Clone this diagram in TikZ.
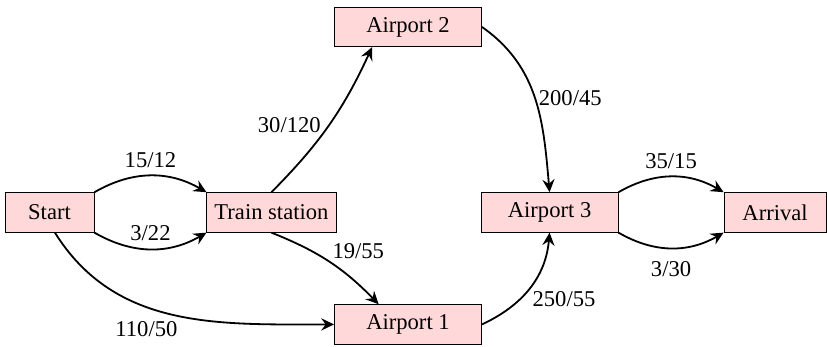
\documentclass[tikz,border=0pt]{standalone}
\usepackage{fontspec}
\setmainfont{Liberation Serif}
\usetikzlibrary{arrows.meta, positioning, calc}

\begin{document}
\begin{tikzpicture}[
  place/.style={draw, fill=red!15, minimum height=0.615cm, inner sep=2pt},
  route/.style={-{Stealth[length=2mm, width=1.9mm, inset=0.7mm]}, thick}
]
\useasboundingbox (0,0) rectangle (12.863,5.396);

% places
\node[place, minimum width=1.385cm] (start) at (0.770,2.092) {Start};
\node[place, minimum width=2.007cm] (train) at (4.222,2.092) {Train station};
\node[place, minimum width=2.286cm] (ap2) at (6.346,4.977) {Airport 2};
\node[place, minimum width=2.130cm] (ap3) at (8.548,2.092) {Airport 3};
\node[place, minimum width=1.586cm] (arrival) at (12.055,2.092) {Arrival};
\node[place, minimum width=2.286cm] (ap1) at (6.346,0.350) {Airport 1};

% routes
\draw[route] (start.north east) to[bend left=30] node[above] {15/12} (train.north west);
\draw[route] (start.south east) to[bend right=30] node[above] {3/22} (train.south west);
\draw[route] ([xshift=2.4pt]start.south) to[out=-58, in=180] node[pos=0.4, below, yshift=-2.5pt] {110/50} (ap1.west);
\draw[route] (train.north) to[bend right=10] node[midway, left] {30/120} ([xshift=-15.9pt]ap2.south);
\draw[route] (train.south) to[bend left=12] node[midway, above right, inner sep=1pt] {19/55} ([xshift=-13pt]ap1.north);
\draw[route] (ap2.east) to[out=-35, in=95] node[midway, right, xshift=-2pt] {200/45} (ap3.north);
\draw[route] (ap1.east) to[out=25, in=-95] node[midway, below right, inner sep=1pt] {250/55} (ap3.south);
\draw[route] (ap3.north east) to[bend left=30] node[above] {35/15} (arrival.north west);
\draw[route] (ap3.south east) to[bend right=30] node[below, yshift=-2pt] {3/30} (arrival.south west);
\end{tikzpicture}
\end{document}
